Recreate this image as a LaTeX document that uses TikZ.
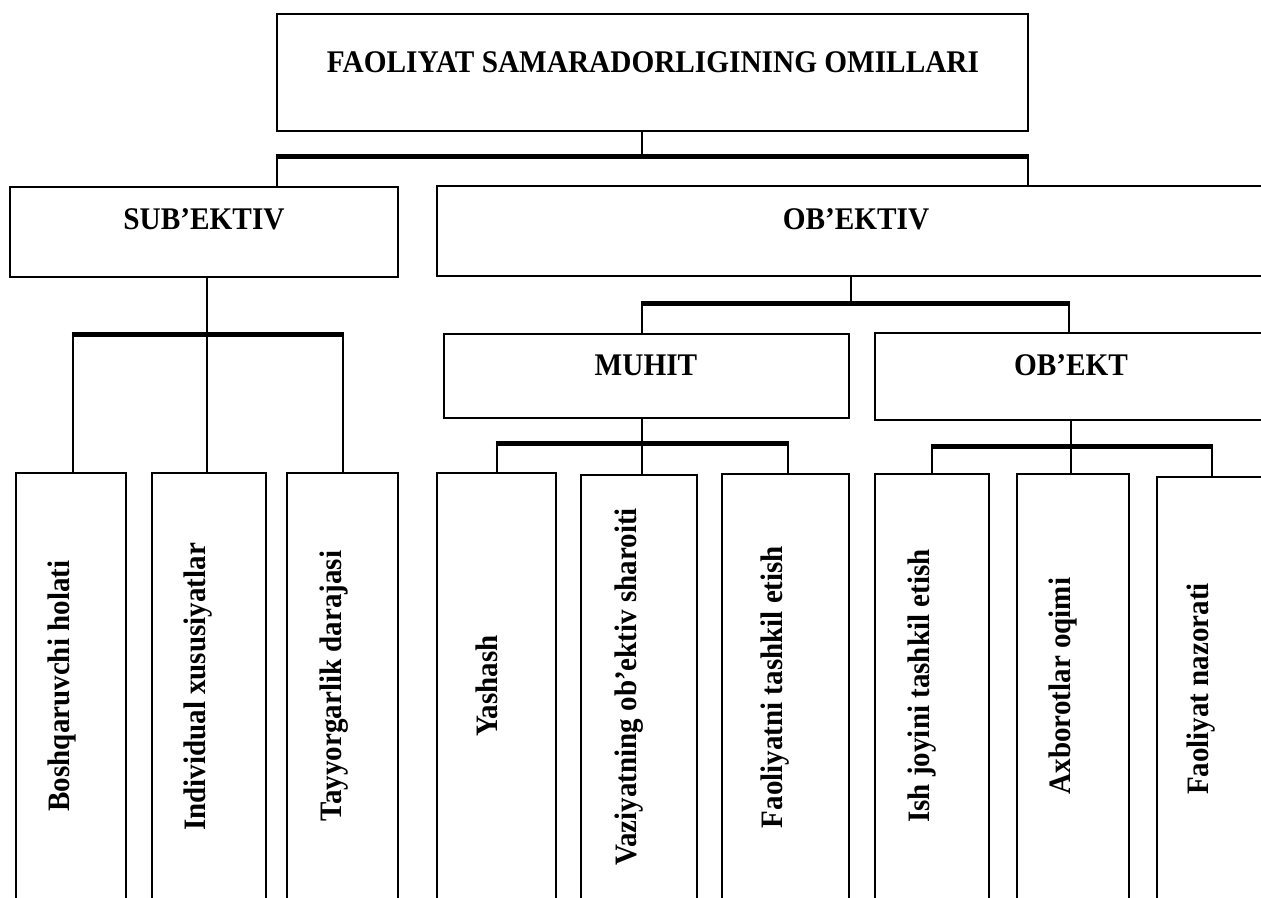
\documentclass[tikz,border=0pt]{standalone}
\usepackage{fontspec}
\setmainfont{Liberation Serif}[FakeStretch=0.93]
\begin{document}
\begin{tikzpicture}[x=1pt,y=-1pt,
  box/.style={draw,line width=2.6pt,anchor=north west,inner sep=0pt,outer sep=0pt},
  conn/.style={line width=2.6pt},
  bar/.style={line width=5pt},
  ttl/.style={font=\fontsize{31.5}{36}\selectfont\bfseries,anchor=base,inner sep=0pt},
  leaf/.style={font=\fontsize{31.2}{36}\selectfont\bfseries,rotate=90,anchor=center,inner sep=0pt}]
\useasboundingbox (0,0) rectangle (1261,897);
\fill[white] (0,0) rectangle (1261,897);
\clip (0,0) rectangle (1261,897);
% boxes
\node[box,minimum width=751pt,minimum height=117pt] (top) at (277,14) {};
\node[box,minimum width=388pt,minimum height=90pt] (sub) at (10,187) {};
\node[box,minimum width=853pt,minimum height=90pt] (obj) at (437,186) {};
\node[box,minimum width=405pt,minimum height=84pt] (muhit) at (444,334) {};
\node[box,minimum width=415pt,minimum height=87pt] (obekt) at (875,333) {};
\node[box,minimum width=110pt,minimum height=440pt] (l1) at (16,473) {};
\node[box,minimum width=114pt,minimum height=440pt] (l2) at (152,473) {};
\node[box,minimum width=111pt,minimum height=440pt] (l3) at (287,473) {};
\node[box,minimum width=119pt,minimum height=440pt] (l4) at (437,473) {};
\node[box,minimum width=116pt,minimum height=440pt] (l5) at (581,475) {};
\node[box,minimum width=127pt,minimum height=440pt] (l6) at (722,474) {};
\node[box,minimum width=114pt,minimum height=440pt] (l7) at (875,474) {};
\node[box,minimum width=112pt,minimum height=440pt] (l8) at (1017,474) {};
\node[box,minimum width=133pt,minimum height=440pt] (l9) at (1157,477) {};
% texts
\node[ttl] (ttop) at (653,72) {FAOLIYAT SAMARADORLIGINING OMILLARI};
\node[ttl] (tsub) at (204,229) {SUB’EKTIV};
\node[ttl] (tobj) at (856,229) {OB’EKTIV};
\node[ttl] (tmuhit) at (646,375) {MUHIT};
\node[ttl] (tobekt) at (1071,375) {OB’EKT};
\node[leaf] (t1) at (62,686) {Boshqaruvchi holati};
\node[leaf] (t2) at (198,687) {Individual xususiyatlar};
\node[leaf] (t3) at (334,686) {Tayyorgarlik darajasi};
\node[leaf] (t4) at (487,686) {Yashash};
\node[leaf] (t5) at (629,687) {Vaziyatning ob’ektiv sharoiti};
\node[leaf] (t6) at (775,687) {Faoliyatni tashkil etish};
\node[leaf] (t7) at (922,686) {Ish joyini tashkil etish};
\node[leaf] (t8) at (1063,686) {Axborotlar oqimi};
\node[leaf] (t9) at (1201,689) {Faoliyat nazorati};
% level 1
\coordinate (a0) at (642,156);
\coordinate (a1) at (277,156);
\coordinate (a2) at (1028,156);
\draw[conn] (top.south -| a0) -- (a0);
\draw[bar] ([xshift=-1.3pt]a1) -- ([xshift=1.3pt]a2);
\draw[conn] (a1) -- (a1 |- sub.north);
\draw[conn] (a2) -- (a2 |- obj.north);
% subektiv
\coordinate (s0) at (207,334);
\coordinate (s1) at (73,334);
\coordinate (s2) at (343,334);
\draw[conn] (sub.south -| s0) -- (s0);
\draw[bar] ([xshift=-1.3pt]s1) -- ([xshift=1.3pt]s2);
\draw[conn] (s1) -- (s1 |- l1.north);
\draw[conn] (s0) -- (s0 |- l2.north);
\draw[conn] (s2) -- (s2 |- l3.north);
% obektiv
\coordinate (o0) at (851,303);
\coordinate (o1) at (642,303);
\coordinate (o2) at (1069,303);
\draw[conn] (obj.south -| o0) -- (o0);
\draw[bar] ([xshift=-1.3pt]o1) -- ([xshift=1.3pt]o2);
\draw[conn] (o1) -- (o1 |- muhit.north);
\draw[conn] (o2) -- (o2 |- obekt.north);
% muhit
\coordinate (m0) at (642,443);
\coordinate (m1) at (497,443);
\coordinate (m2) at (788,443);
\draw[conn] (muhit.south -| m0) -- (m0);
\draw[bar] ([xshift=-1.3pt]m1) -- ([xshift=1.3pt]m2);
\draw[conn] (m1) -- (m1 |- l4.north);
\draw[conn] (m0) -- (m0 |- l5.north);
\draw[conn] (m2) -- (m2 |- l6.north);
% obekt
\coordinate (e0) at (1071,446);
\coordinate (e1) at (932,446);
\coordinate (e2) at (1212,446);
\draw[conn] (obekt.south -| e0) -- (e0);
\draw[bar] ([xshift=-1.3pt]e1) -- ([xshift=1.3pt]e2);
\draw[conn] (e1) -- (e1 |- l7.north);
\draw[conn] (e0) -- (e0 |- l8.north);
\draw[conn] (e2) -- (e2 |- l9.north);
\end{tikzpicture}
\end{document}
